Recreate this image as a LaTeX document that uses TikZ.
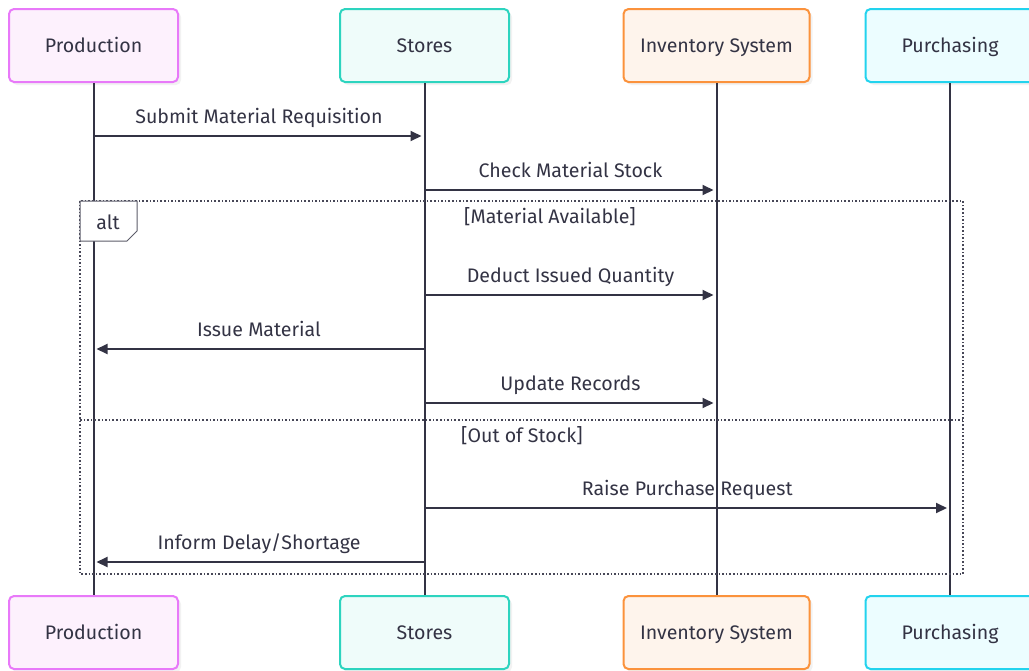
\documentclass[tikz,border=0pt]{standalone}
\usepackage{fontspec}
\setmainfont{Fira Sans}
\usepackage{tikz}
\usetikzlibrary{arrows.meta,positioning,calc,shadows}
\definecolor{ink}{RGB}{51,51,68}
\definecolor{prodline}{RGB}{232,121,249}
\definecolor{prodfill}{RGB}{253,241,253}
\definecolor{storeline}{RGB}{45,212,191}
\definecolor{storefill}{RGB}{239,252,250}
\definecolor{invline}{RGB}{251,146,60}
\definecolor{invfill}{RGB}{254,244,236}
\definecolor{purline}{RGB}{34,211,238}
\definecolor{purfill}{RGB}{236,253,255}
\tikzset{
  txt/.style={text=ink,font=\fontsize{19.6}{22}\selectfont,text height=14pt,text depth=0pt},
  actor/.style={txt,draw,line width=2pt,rounded corners=5pt,minimum height=73pt,minimum width=169pt,
    drop shadow={shadow xshift=3pt,shadow yshift=-3pt,fill=black!10}},
  prode/.style={actor,draw=prodline,fill=prodfill},
  storee/.style={actor,draw=storeline,fill=storefill},
  inve/.style={actor,draw=invline,fill=invfill,minimum width=186pt},
  pure/.style={actor,draw=purline,fill=purfill},
  life/.style={line width=2pt,draw=ink},
  msg/.style={-{Triangle[length=11pt,width=10pt]},line width=2pt,draw=ink,shorten >=3pt},
  lab/.style={txt},
  frame/.style={dotted,line width=1.6pt,draw=ink!90}
}
\begin{document}
\begin{tikzpicture}[x=1pt,y=-1pt]
  \useasboundingbox (0,0) rectangle (1029,670);
  % participants
  \node[prode]  (prodTop)   at (93.5,45.5)  {Production};
  \node[storee] (storesTop) at (424.5,45.5) {Stores};
  \node[inve]   (invTop)    at (716.5,45.5) {Inventory System};
  \node[pure]   (purTop)    at (950,45.5)   {Purchasing};
  \node[prode]  (prodBot)   at (93.5,632.5)  {Production};
  \node[storee] (storesBot) at (424.5,632.5) {Stores};
  \node[inve]   (invBot)    at (716.5,632.5) {Inventory System};
  \node[pure]   (purBot)    at (950,632.5)   {Purchasing};
  % lifelines
  \draw[life] (prodTop.south) -- (prodBot.north);
  \draw[life] (storesTop.south) -- (storesBot.north);
  \draw[life] (invTop.south) -- (invBot.north);
  \draw[life] (purTop.south) -- (purBot.north);
  % message rows
  \foreach \r/\y in {1/136,2/190,3/295,4/349,5/403,6/508,7/562}
    \coordinate (r\r) at (0,\y);
  % alt frame
  \draw[frame] (80,201) rectangle (963,574);
  \draw[frame] (80,420) -- (963,420);
  \draw[draw=ink!80,line width=1pt,fill=white]
    (80,201) -- (137,201) -- (137,231) -- (127,241) -- (80,241) -- cycle;
  \node[lab] (altTag) at (108,222) {alt};
  \node[lab] (guardA) at (550,216) {[Material Available]};
  \node[lab] (guardB) at (522,435) {[Out of Stock]};
  % messages
  \draw[msg] (prodTop |- r1) -- (storesTop |- r1) node[lab,midway,yshift=20pt]{Submit Material Requisition};
  \draw[msg] (storesTop |- r2) -- (invTop |- r2) node[lab,midway,yshift=20pt]{Check Material Stock};
  \draw[msg] (storesTop |- r3) -- (invTop |- r3) node[lab,midway,yshift=20pt]{Deduct Issued Quantity};
  \draw[msg] (storesTop |- r4) -- (prodTop |- r4) node[lab,midway,yshift=20pt]{Issue Material};
  \draw[msg] (storesTop |- r5) -- (invTop |- r5) node[lab,midway,yshift=20pt]{Update Records};
  \draw[msg] (storesTop |- r6) -- (purTop |- r6) node[lab,midway,yshift=20pt]{Raise Purchase Request};
  \draw[msg] (storesTop |- r7) -- (prodTop |- r7) node[lab,midway,yshift=20pt]{Inform Delay/Shortage};
\end{tikzpicture}
\end{document}
